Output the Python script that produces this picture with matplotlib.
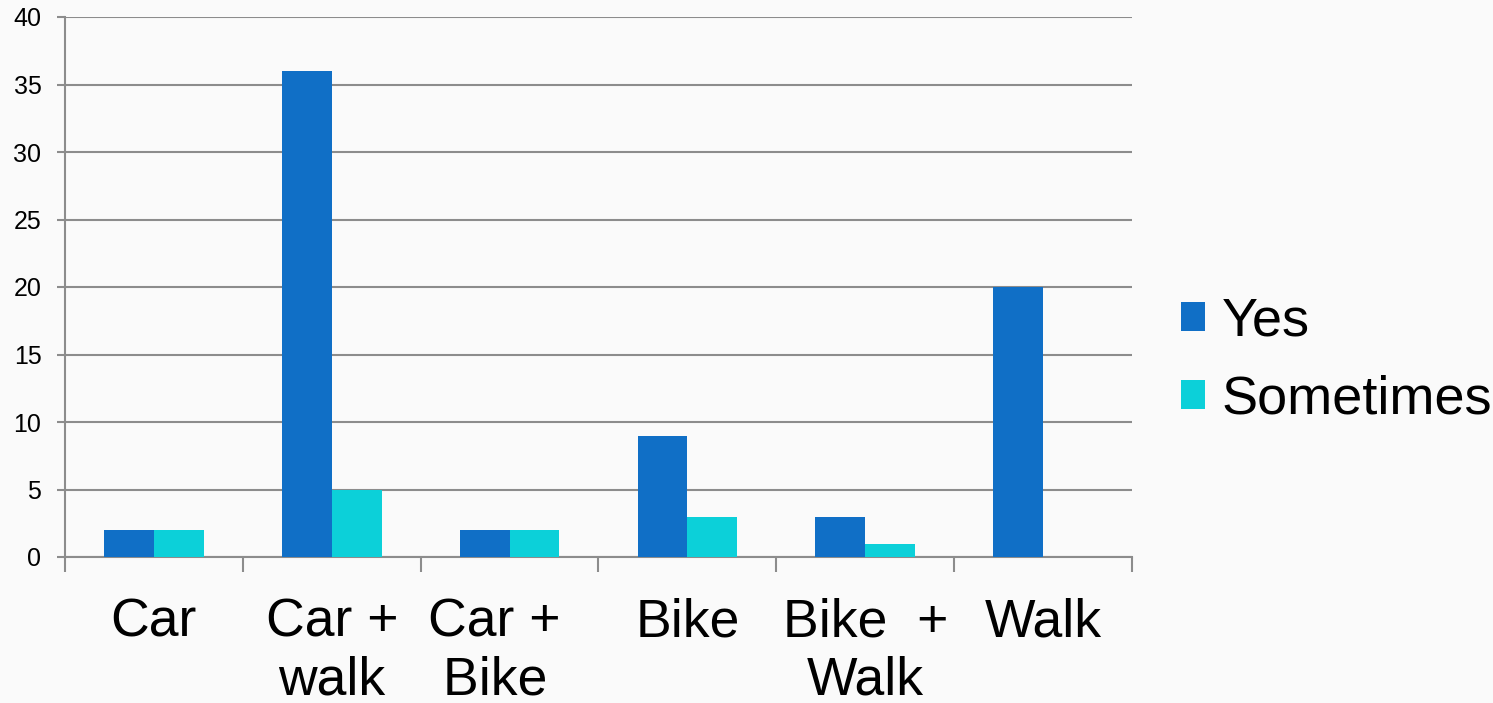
import matplotlib.pyplot as plt
import numpy as np

# datos
categorias = ["Car", "Car +\nwalk", "Car +  \nBike  ", "Bike", "Bike  +\nWalk", "Walk"]
si = [2, 36, 2, 9, 3, 20]
a_veces = [2, 5, 2, 3, 1, 0]
series = ["Yes", "Sometimes"]

plt.rcParams['font.family'] = ['Liberation Sans', 'DejaVu Sans']
gris = '#8c8c8c'
fondo = '#fafafa'

fig = plt.figure(figsize=(14.93, 7.03), dpi=100, facecolor=fondo)
ax = fig.add_axes([65/1493, 1 - 557/703, (1132-65)/1493, (557-17)/703])
ax.set_facecolor(fondo)

x = np.arange(len(categorias))
ancho = 0.28
ax.bar(x - ancho/2, si, ancho, color='#106fc6', label=series[0], zorder=3)
# la ultima barra vale 0, no se dibuja nada visible
ax.bar(x + ancho/2, a_veces, ancho, color='#0cd0d9', label=series[1], zorder=3)

ax.set_xlim(-0.5, len(categorias) - 0.5)
ax.set_ylim(0, 40)
ax.set_yticks(range(0, 41, 5))
ax.yaxis.grid(True, color=gris, linewidth=1.5, zorder=0)

# marcas en los limites de cada categoria, etiquetas en el centro
ax.set_xticks(np.arange(-0.5, len(categorias)), labels=[])
ax.set_xticks(x, labels=categorias, minor=True)
ax.tick_params(axis='x', which='major', length=11, width=1.5, color=gris)
ax.tick_params(axis='x', which='minor', length=0, pad=29, labelsize=38.5)
ax.tick_params(axis='y', length=6, width=1.5, color=gris, pad=11, labelsize=18)
for lab in ax.get_xticklabels(minor=True):
    lab.set_linespacing(1.2)

for lado in ['top', 'right']:
    ax.spines[lado].set_visible(False)
for lado in ['left', 'bottom']:
    ax.spines[lado].set_color(gris)
    ax.spines[lado].set_linewidth(1.5)

fig.legend(loc='center left', bbox_to_anchor=(1181/1493, 0.487), frameon=False,
           fontsize=39, handlelength=0.45, handleheight=0.45, handletextpad=0.3,
           labelspacing=0.52, borderpad=0, borderaxespad=0)

fig.savefig('out.png', dpi=100, facecolor=fondo)
